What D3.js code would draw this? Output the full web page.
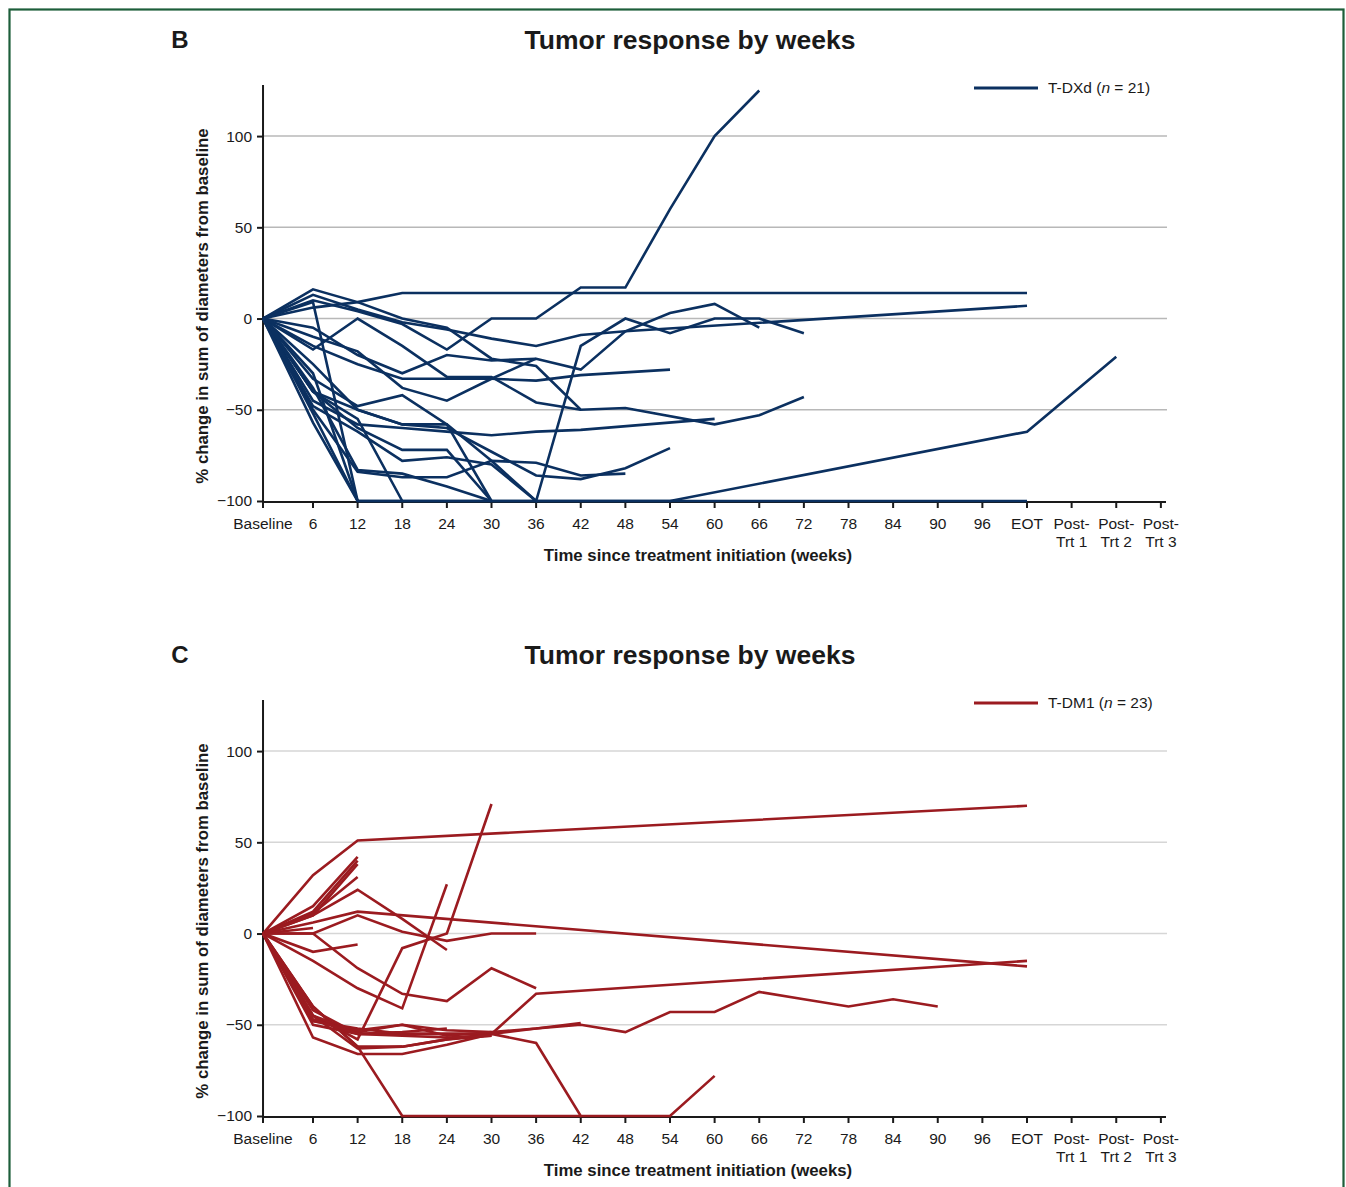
<!DOCTYPE html>
<html>
<head>
<meta charset="utf-8">
<script src="https://d3js.org/d3.v7.min.js"></script>
<style>
  body { margin: 0; background: #fff; }
  text { font-family: "Liberation Sans", Arial, sans-serif; fill: #1a1a1a; }
</style>
</head>
<body>
<script>
// x categories (weeks) and their tick labels
var weekKeys = [0, 6, 12, 18, 24, 30, 36, 42, 48, 54, 60, 66, 72, 78, 84, 90, 96, "EOT", "PT1", "PT2", "PT3"];
var tickLabels = [["Baseline"], ["6"], ["12"], ["18"], ["24"], ["30"], ["36"], ["42"], ["48"], ["54"], ["60"],
  ["66"], ["72"], ["78"], ["84"], ["90"], ["96"], ["EOT"], ["Post-", "Trt 1"], ["Post-", "Trt 2"], ["Post-", "Trt 3"]];
var yTicks = [-100, -50, 0, 50, 100];
var gridValues = [-50, 0, 50, 100];

// T-DXd patients, [week, % change]
var tdxd = [
  [[0,0],[6,10],[12,4],[18,-3],[24,-17],[30,0],[36,0],[42,17],[48,17],[54,60],[60,100],[66,125]],
  [[0,0],[6,6],[12,9],[18,14],["EOT",14]],
  [[0,0],[6,13],[12,5],[18,-2],[24,-6],[30,-11],[36,-15],[42,-9],[48,-7],["EOT",7]],
  [[0,0],[6,16],[12,9],[18,0],[24,-5],[30,-22],[36,-26],[42,-50],[48,-49],[60,-58],[66,-53],[72,-43]],
  [[0,0],[6,-17],[12,0],[18,-15],[24,-32],[30,-32],[36,-46],[42,-50]],
  [[0,0],[6,-5],[12,-20],[18,-30],[24,-20],[30,-23],[36,-22],[42,-28],[48,-7],[54,3],[60,8],[66,-5]],
  [[0,0],[6,-15],[12,-25],[18,-33],[24,-33],[30,-33],[36,-34],[42,-31],[54,-28]],
  [[0,0],[6,-25],[12,-50],[18,-58],[24,-58],[30,-78],[36,-100],[42,-15],[48,0],[54,-8],[60,0],[66,0],[72,-8]],
  [[0,0],[6,-45],[12,-58],[18,-60],[24,-62],[30,-64],[36,-62],[42,-61],[60,-55]],
  [[0,0],[6,-40],[12,-50],[18,-58],[24,-60],[30,-73],[36,-86],[42,-88],[48,-82],[54,-71]],
  [[0,0],[6,-50],[12,-84],[18,-87],[24,-87],[30,-78],[36,-79],[42,-86],[48,-85]],
  [[0,0],[6,-57],[12,-100],[30,-100],[54,-100],["EOT",-100]],
  [[0,0],[6,-40],[12,-60],[18,-72],[24,-72],[30,-100],[36,-100],[54,-100],["EOT",-62],["PT2",-21]],
  [[0,0],[6,9],[12,-100],[30,-100]],
  [[0,0],[6,-48],[12,-62],[18,-78],[24,-76],[30,-80],[36,-100]],
  [[0,0],[6,-40],[12,-55],[18,-100]],
  [[0,0],[6,-30],[12,-100]],
  [[0,0],[6,-52],[12,-100]],
  [[0,0],[6,-38],[12,-83],[18,-85],[24,-92],[30,-100]],
  [[0,0],[6,-10],[12,-18],[18,-38],[24,-45],[30,-33],[36,-22]],
  [[0,0],[6,-33],[12,-48],[18,-42],[24,-58],[30,-100]]
];

// T-DM1 patients, [week, % change]
var tdm1 = [
  [[0,0],[6,32],[12,51],["EOT",70]],
  [[0,0],[6,15],[12,42]],
  [[0,0],[6,12],[12,40]],
  [[0,0],[6,10],[12,38]],
  [[0,0],[6,11],[12,31]],
  [[0,0],[6,10],[12,24],[18,8],[24,-9]],
  [[0,0],[6,6],[12,12],["EOT",-18]],
  [[0,0],[6,0],[12,10],[18,1],[24,-4],[30,0],[36,0]],
  [[0,0],[6,3]],
  [[0,0],[6,-10],[12,-6]],
  [[0,0],[6,0],[12,-19],[18,-33],[24,-37],[30,-19],[36,-30]],
  [[0,0],[6,-15],[12,-30],[18,-41],[24,27]],
  [[0,0],[6,-45],[12,-58],[18,-8],[24,0],[30,71]],
  [[0,0],[6,-40],[12,-62],[18,-100],[24,-100],[30,-100],[36,-100],[42,-100]],
  [[0,0],[6,-50],[12,-55],[18,-55],[24,-55],[30,-55],[36,-60],[42,-100],[48,-100],[54,-100],[60,-78]],
  [[0,0],[6,-40],[12,-62],[18,-62],[24,-58],[30,-55],[36,-33],["EOT",-15]],
  [[0,0],[6,-48],[12,-52],[18,-55],[24,-55],[30,-55],[36,-52],[42,-50],[48,-54],[54,-43],[60,-43],[66,-32],[72,-36],[78,-40],[84,-36],[90,-40]],
  [[0,0],[6,-45],[12,-54],[18,-50],[24,-53],[30,-54],[36,-52],[42,-49]],
  [[0,0],[6,-42],[12,-55],[18,-54],[24,-52]],
  [[0,0],[6,-48],[12,-53],[18,-50],[24,-56],[30,-54]],
  [[0,0],[6,-57],[12,-66],[18,-66],[24,-61],[30,-55]],
  [[0,0],[6,-45],[12,-63],[18,-62],[24,-58],[30,-56]],
  [[0,0],[6,-47],[12,-55],[18,-56],[24,-57],[30,-56]]
];

var W = 1346, H = 1187;
var svg = d3.select("body").append("svg").attr("width", W).attr("height", H);

// frame
svg.append("rect").attr("x", 9.5).attr("y", 9.5).attr("width", 1334).attr("height", 1200)
  .attr("fill", "none").attr("stroke", "#1d5e3a").attr("stroke-width", 2.2);

// index on the x axis; baseline sits a bit further left than a full step
function xIndex(k) {
  var i = weekKeys.indexOf(k);
  return i === 0 ? -0.12 : i;
}

function drawPanel(top, letter, series, color, legendName, n, gridColor) {
  var g = svg.append("g").attr("transform", "translate(0," + top + ")");
  var x = d3.scaleLinear().domain([1, 17]).range([313, 1027]);
  var y = d3.scaleLinear().domain([-100, 128]).range([501, 85]);

  g.append("text").attr("x", 180).attr("y", 48).attr("text-anchor", "middle")
    .style("font-size", "24px").style("font-weight", "bold").text(letter);
  g.append("text").attr("x", 690).attr("y", 49).attr("text-anchor", "middle")
    .style("font-size", "26.5px").style("font-weight", "bold").text("Tumor response by weeks");

  // gridlines
  g.selectAll(".grid").data(gridValues).enter().append("line")
    .attr("x1", x(-0.12)).attr("x2", 1167)
    .attr("y1", function(d) { return y(d); }).attr("y2", function(d) { return y(d); })
    .attr("stroke", gridColor).attr("stroke-width", 1.5);

  // y axis
  var yAxis = d3.axisLeft(y).tickValues(yTicks).tickSize(6).tickPadding(5)
    .tickFormat(function(d) { return d < 0 ? "\u2212" + Math.abs(d) : d; });
  var ya = g.append("g").attr("transform", "translate(" + x(-0.12) + ",0)").call(yAxis);
  ya.select(".domain").remove();
  ya.append("line").attr("x1", 0).attr("x2", 0).attr("y1", 85).attr("y2", 502)
    .attr("stroke", "#1a1a1a").attr("stroke-width", 2);
  ya.selectAll(".tick line").attr("stroke", "#1a1a1a").attr("stroke-width", 2);
  ya.selectAll(".tick text").style("font-size", "15.5px").style("font-family", "Liberation Sans, Arial, sans-serif").attr("fill", "#1a1a1a");

  // x axis
  var xa = g.append("g").attr("transform", "translate(0,502)");
  xa.append("line").attr("x1", x(-0.12)).attr("x2", 1166).attr("y1", 0).attr("y2", 0)
    .attr("stroke", "#1a1a1a").attr("stroke-width", 2);
  var ticks = xa.selectAll(".xt").data(weekKeys).enter().append("g")
    .attr("transform", function(d) { return "translate(" + x(xIndex(d)) + ",0)"; });
  ticks.append("line").attr("y1", 0).attr("y2", 6).attr("stroke", "#1a1a1a").attr("stroke-width", 2);
  ticks.append("text").attr("text-anchor", "middle").style("font-size", "15.5px")
    .each(function(d, i) {
      var t = d3.select(this);
      tickLabels[i].forEach(function(s, j) {
        t.append("tspan").attr("x", 0).attr("y", 27 + j * 18).text(s);
      });
    });

  g.append("text").attr("x", 698).attr("y", 561).attr("text-anchor", "middle")
    .style("font-size", "16.8px").style("font-weight", "bold")
    .text("Time since treatment initiation (weeks)");
  g.append("text").attr("transform", "translate(208,306) rotate(-90)").attr("text-anchor", "middle")
    .style("font-size", "16.8px").style("font-weight", "bold")
    .text("% change in sum of diameters from baseline");

  // lines
  var line = d3.line()
    .x(function(d) { return x(xIndex(d[0])); })
    .y(function(d) { return y(d[1]); });
  g.selectAll(".pt").data(series).enter().append("path")
    .attr("d", line).attr("fill", "none").attr("stroke", color)
    .attr("stroke-width", 2.6).attr("stroke-linejoin", "miter");

  // legend
  g.append("line").attr("x1", 974).attr("x2", 1038).attr("y1", 88).attr("y2", 88)
    .attr("stroke", color).attr("stroke-width", 3);
  var lt = g.append("text").attr("x", 1048).attr("y", 93).style("font-size", "15.5px");
  lt.append("tspan").text(legendName + " (");
  lt.append("tspan").style("font-style", "italic").text("n");
  lt.append("tspan").text(" = " + n + ")");
}

drawPanel(0, "B", tdxd, "#0b3060", "T-DXd", 21, "#b8b8b8");
drawPanel(615, "C", tdm1, "#9b1b20", "T-DM1", 23, "#d6d6d6");
</script>
</body>
</html>
